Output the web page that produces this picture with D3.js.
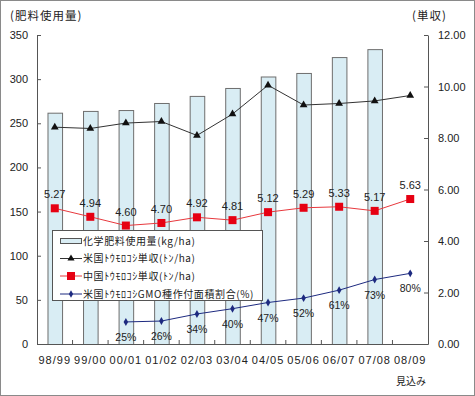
<!DOCTYPE html>
<html>
<head>
<meta charset="utf-8">
<script src="https://cdn.jsdelivr.net/npm/d3@7"></script>
<style>
  body { margin: 0; background: #fff; }
  svg text { font-family: "Liberation Sans", Arial, sans-serif; fill: #222; }
  svg .jp { font-family: "Noto Sans CJK JP", sans-serif; }
</style>
</head>
<body>
<div id="chart"></div>
<script>
// data
const years = ["98/99", "99/00", "00/01", "01/02", "02/03", "03/04", "04/05", "05/06", "06/07", "07/08", "08/09"];
const fertilizer = [262, 264, 265, 273, 281, 290, 303, 307, 325, 334, null]; // kg/ha
const usYield = [8.42, 8.37, 8.58, 8.64, 8.10, 8.93, 10.05, 9.28, 9.34, 9.44, 9.65]; // t/ha
const cnYield = [5.27, 4.94, 4.60, 4.70, 4.92, 4.81, 5.12, 5.29, 5.33, 5.17, 5.63]; // t/ha
const gmoShare = [null, null, 25, 26, 34, 40, 47, 52, 61, 73, 80]; // %
const leftTicks = [0, 50, 100, 150, 200, 250, 300, 350];
const rightTicks = [0, 2, 4, 6, 8, 10, 12];
const legendLabels = [
  "化学肥料使用量(kg/ha)",
  "米国ﾄｳﾓﾛｺｼ単収(ﾄﾝ/ha)",
  "中国ﾄｳﾓﾛｺｼ単収(ﾄﾝ/ha)",
  "米国ﾄｳﾓﾛｺｼGMO種作付面積割合(%)"
];

const width = 475;
const height = 396;
const plot = { left: 37, right: 428, top: 35, bottom: 344 };

const svg = d3.select("#chart").append("svg")
  .attr("width", width)
  .attr("height", height);

// outer frame
svg.append("rect")
  .attr("x", 0.5).attr("y", 0.5)
  .attr("width", width - 1).attr("height", height - 1)
  .attr("fill", "#fff")
  .attr("stroke", "#8a8a8a");

// scales
const x = d3.scaleBand().domain(years).range([plot.left, plot.right]);
const yLeft = d3.scaleLinear().domain([0, 350]).range([plot.bottom, plot.top]);
const yRight = d3.scaleLinear().domain([0, 12]).range([plot.bottom, plot.top]);
const cx = d => x(d) + x.bandwidth() / 2;
const barW = x.bandwidth() * 0.41;

// bars
svg.append("g")
  .selectAll("rect")
  .data(years.map((d, i) => ({ year: d, v: fertilizer[i] })).filter(d => d.v != null))
  .enter().append("rect")
  .attr("x", d => cx(d.year) - barW / 2 + 0.5)
  .attr("y", d => yLeft(d.v) + 0.5)
  .attr("width", barW)
  .attr("height", d => yLeft(0) - yLeft(d.v))
  .attr("fill", "#d9edf4")
  .attr("stroke", "#6e6e6e");

// axes
const axisLeft = svg.append("g")
  .attr("transform", `translate(${plot.left},0)`)
  .call(d3.axisLeft(yLeft).tickValues(leftTicks).tickSizeInner(-4).tickSizeOuter(0).tickPadding(9));

const axisRight = svg.append("g")
  .attr("transform", `translate(${plot.right},0)`)
  .call(d3.axisRight(yRight).tickValues(rightTicks).tickFormat(d3.format(".2f"))
    .tickSizeInner(-4).tickSizeOuter(0).tickPadding(10));

const axisBottom = svg.append("g")
  .attr("transform", `translate(0,${plot.bottom})`)
  .call(d3.axisBottom(x).tickSize(0).tickPadding(12));

[axisLeft, axisRight, axisBottom].forEach(g => {
  g.select(".domain").attr("stroke", "#555");
  g.selectAll(".tick line").attr("stroke", "#555");
  g.selectAll("text").attr("font-size", 11).attr("fill", "#222")
    .attr("font-family", "Liberation Sans, Arial, sans-serif");
});
axisBottom.selectAll("text").attr("letter-spacing", 1);

// small ticks between categories on x axis
svg.append("g")
  .selectAll("line")
  .data(years.slice(1))
  .enter().append("line")
  .attr("x1", d => x(d)).attr("x2", d => x(d))
  .attr("y1", plot.bottom).attr("y2", plot.bottom - 4)
  .attr("stroke", "#555");

// US yield line (right axis)
const usLine = d3.line().x((d, i) => cx(years[i])).y(d => yRight(d));
svg.append("path")
  .datum(usYield)
  .attr("d", usLine)
  .attr("fill", "none")
  .attr("stroke", "#333")
  .attr("stroke-width", 1);
svg.append("g")
  .selectAll("path")
  .data(usYield)
  .enter().append("path")
  .attr("d", d3.symbol(d3.symbolTriangle, 26))
  .attr("transform", (d, i) => `translate(${cx(years[i])},${yRight(d)})`)
  .attr("fill", "#111");

// China yield line (right axis)
svg.append("path")
  .datum(cnYield)
  .attr("d", usLine)
  .attr("fill", "none")
  .attr("stroke", "#e8383d")
  .attr("stroke-width", 1);
svg.append("g")
  .selectAll("rect")
  .data(cnYield)
  .enter().append("rect")
  .attr("x", (d, i) => cx(years[i]) - 4)
  .attr("y", d => yRight(d) - 4)
  .attr("width", 8).attr("height", 8)
  .attr("fill", "#e60012");
svg.append("g")
  .selectAll("text")
  .data(cnYield)
  .enter().append("text")
  .attr("x", (d, i) => cx(years[i]))
  .attr("y", d => yRight(d) - 10)
  .attr("text-anchor", "middle")
  .attr("font-size", 11)
  .text(d => d.toFixed(2));

// GMO share line (left axis, %)
const gmo = years.map((d, i) => ({ year: d, v: gmoShare[i] })).filter(d => d.v != null);
svg.append("path")
  .datum(gmo)
  .attr("d", d3.line().x(d => cx(d.year)).y(d => yLeft(d.v)))
  .attr("fill", "none")
  .attr("stroke", "#1d2a80")
  .attr("stroke-width", 1);
svg.append("g")
  .selectAll("path")
  .data(gmo)
  .enter().append("path")
  .attr("d", d3.symbol(d3.symbolDiamond, 18))
  .attr("transform", d => `translate(${cx(d.year)},${yLeft(d.v)})`)
  .attr("fill", "#1d2a80");
svg.append("g")
  .selectAll("text")
  .data(gmo)
  .enter().append("text")
  .attr("x", d => cx(d.year))
  .attr("y", d => yLeft(d.v) + 19)
  .attr("text-anchor", "middle")
  .attr("font-size", 10.5)
  .text(d => d.v + "%");

// axis titles
svg.append("text").attr("class", "jp")
  .attr("x", 10).attr("y", 20)
  .attr("font-size", 11.5)
  .attr("letter-spacing", 1)
  .text("(肥料使用量)");
svg.append("text").attr("class", "jp")
  .attr("x", 412).attr("y", 20)
  .attr("font-size", 11.5)
  .attr("letter-spacing", 1)
  .text("(単収)");
svg.append("text").attr("class", "jp")
  .attr("x", 426).attr("y", 385)
  .attr("text-anchor", "end")
  .attr("font-size", 10)
  .text("見込み");

// legend
const legend = svg.append("g").attr("transform", "translate(52,230)");
legend.append("rect")
  .attr("x", 0.5).attr("y", 0.5)
  .attr("width", 210).attr("height", 70)
  .attr("fill", "#fff")
  .attr("stroke", "#555");

const rowY = [11, 28.5, 46, 64];
const legendItem = legend.selectAll("g.item")
  .data(legendLabels)
  .enter().append("g")
  .attr("class", "item")
  .attr("transform", (d, i) => `translate(0,${rowY[i]})`);

legendItem.append("text")
  .attr("class", "jp")
  .attr("x", 31).attr("y", 3.5)
  .attr("font-size", 10)
  .attr("letter-spacing", 0.6)
  .text(d => d);

// swatches
legendItem.filter((d, i) => i === 0).append("rect")
  .attr("x", 8.5).attr("y", -2.5)
  .attr("width", 21).attr("height", 5)
  .attr("fill", "#d9edf4").attr("stroke", "#555");

const swatchColors = [null, "#333", "#e8383d", "#1d2a80"];
legendItem.filter((d, i) => i > 0).append("line")
  .attr("x1", 8).attr("x2", 30)
  .attr("stroke", (d, i) => swatchColors[i + 1]);

legendItem.filter((d, i) => i === 1).append("path")
  .attr("d", d3.symbol(d3.symbolTriangle, 22))
  .attr("transform", "translate(19,0)")
  .attr("fill", "#111");
legendItem.filter((d, i) => i === 2).append("rect")
  .attr("x", 15).attr("y", -4).attr("width", 8).attr("height", 8)
  .attr("fill", "#e60012");
legendItem.filter((d, i) => i === 3).append("path")
  .attr("d", d3.symbol(d3.symbolDiamond, 16))
  .attr("transform", "translate(19,0)")
  .attr("fill", "#1d2a80");
</script>
</body>
</html>
